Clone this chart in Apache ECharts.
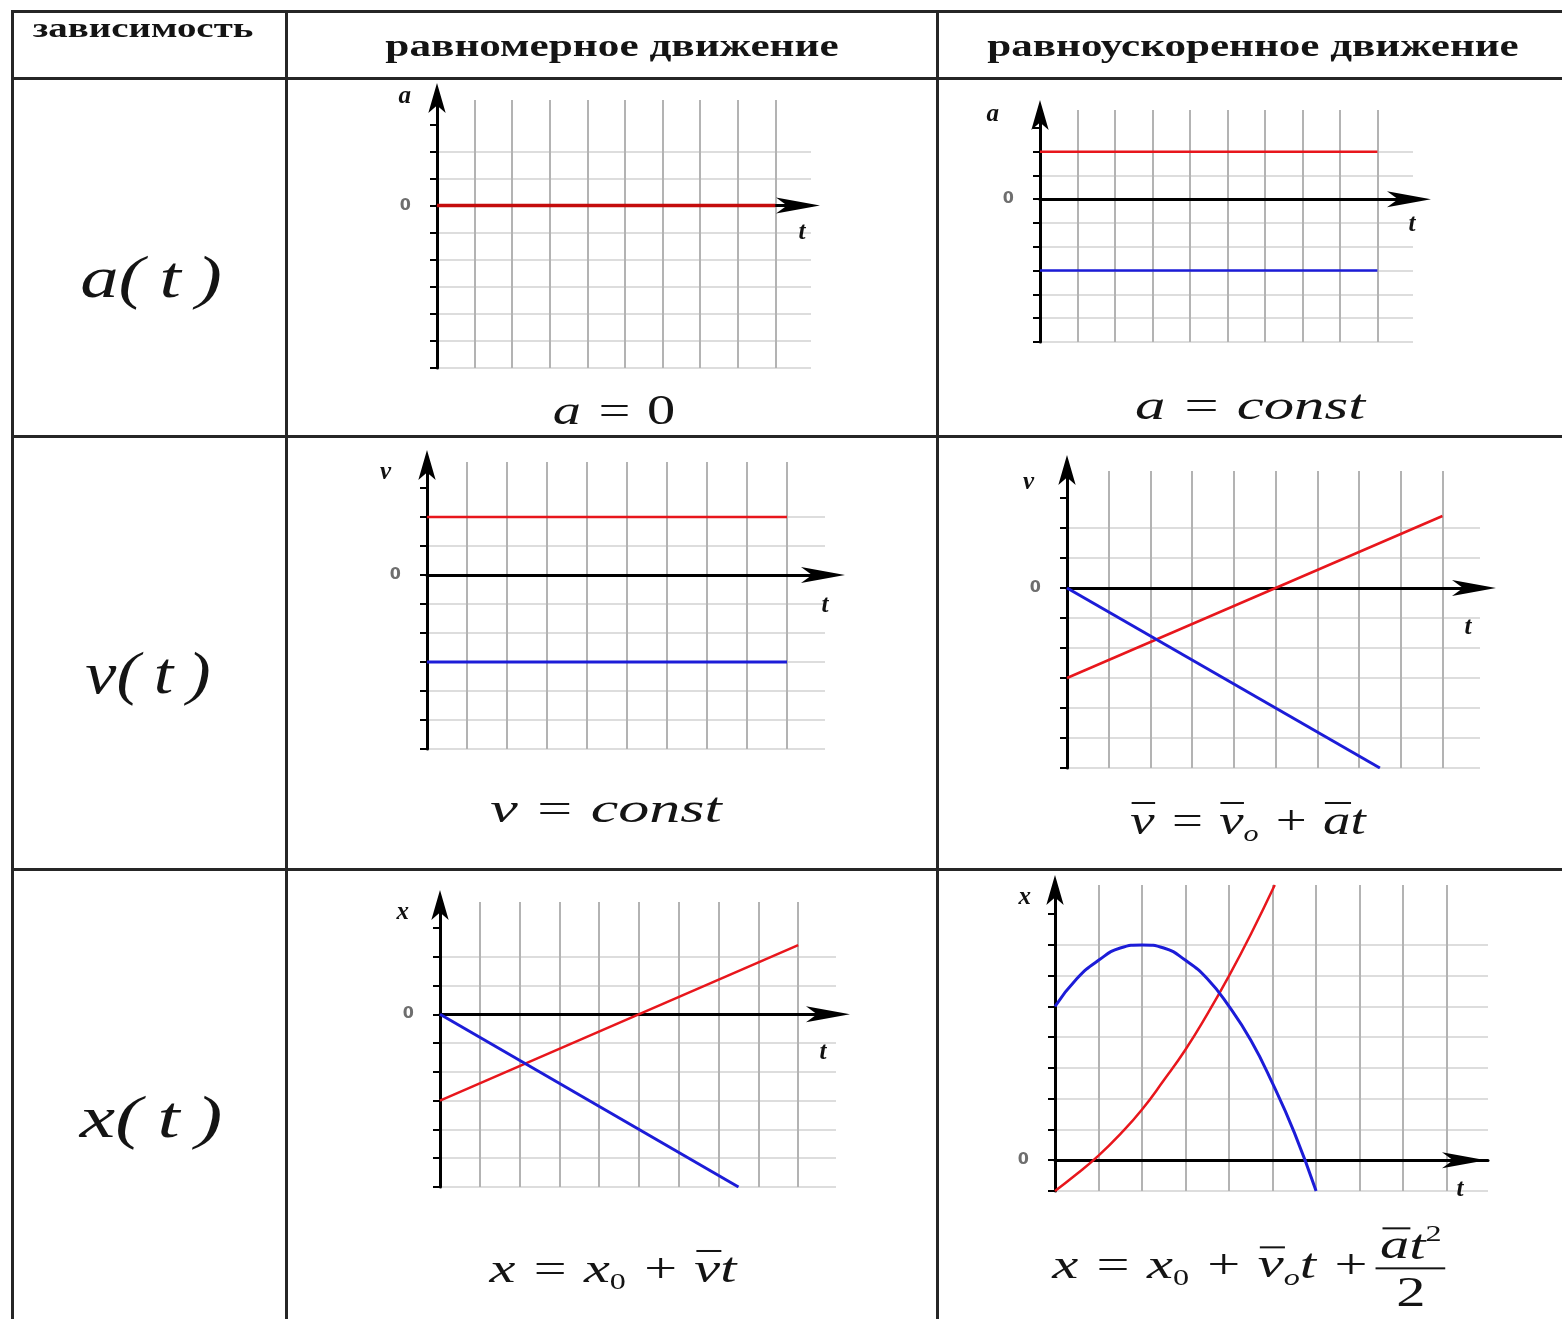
<!DOCTYPE html>
<html lang="ru">
<head>
<meta charset="utf-8">
<script src="https://cdn.jsdelivr.net/npm/echarts@6/dist/echarts.min.js"></script>
<style>
    html, body { margin: 0; padding: 0; background: #fff; }
    #wrap { position: relative; width: 1562px; height: 1319px; overflow: hidden; }
    #chart { position: absolute; left: 0; top: 0; width: 1562px; height: 1319px; }
    #table { position: absolute; left: 0; top: 0; width: 1562px; height: 1319px; pointer-events: none; }
    .ln { position: absolute; background: #262626; }
    .txt { position: absolute; white-space: nowrap; line-height: 1; transform-origin: center center; transform: translate(-50%, -50%); }
    .head { font-family: 'Liberation Serif', 'Times New Roman', serif; font-weight: bold; color: #141414; }
    .math { font-family: 'Liberation Serif', 'Times New Roman', serif; font-style: italic; color: #141414; }
    .up { font-style: normal; }
    .vec { position: relative; display: inline-block; }
    .vec::before { content: ''; position: absolute; left: 8%; right: -4%; top: 0.08em; height: 2px; background: #141414; }
    .sub { font-size: 55%; vertical-align: -0.3em; }
    .sup { font-size: 55%; vertical-align: 0.75em; font-style: normal; }
    .frac { display: inline-flex; flex-direction: column; align-items: center; vertical-align: middle; margin-left: 4px; }
    .frac .num { border-bottom: 2px solid #141414; padding: 0 3px 2px 3px; }
    .frac .den { padding-top: 2px; font-style: normal; }
</style>
</head>
<body>
<div id="wrap">
    <div id="chart"></div>
    <div id="table">
        <div class="ln" style="left:11px;top:10px;width:1551px;height:3px"></div>
        <div class="ln" style="left:11px;top:77px;width:1551px;height:3px"></div>
        <div class="ln" style="left:11px;top:435px;width:1551px;height:3px"></div>
        <div class="ln" style="left:11px;top:868px;width:1551px;height:3px"></div>
        <div class="ln" style="left:11px;top:10px;width:3px;height:1309px"></div>
        <div class="ln" style="left:285px;top:10px;width:3px;height:1309px"></div>
        <div class="ln" style="left:936px;top:10px;width:3px;height:1309px"></div>

        <div class="txt head" data-w="221" style="left:143px;top:28px;font-size:28px">зависимость</div>
        <div class="txt head" data-w="453" style="left:612px;top:45px;font-size:32px">равномерное движение</div>
        <div class="txt head" data-w="532" style="left:1253px;top:45px;font-size:32px">равноускоренное движение</div>

        <div class="txt math" data-w="142" style="left:151px;top:277px;font-size:60px">a(&#8201;t&#8201;)</div>
        <div class="txt math" data-w="125" style="left:148px;top:673px;font-size:60px">v(&#8201;t&#8201;)</div>
        <div class="txt math" data-w="142" style="left:151px;top:1117px;font-size:60px">x(&#8201;t&#8201;)</div>

        <div class="txt math" data-w="122" style="left:614px;top:410px;font-size:42px">a = <span class="up">0</span></div>
        <div class="txt math" data-w="230" style="left:1250px;top:405px;font-size:42px">a = const</div>
        <div class="txt math" data-w="232" style="left:606px;top:808px;font-size:42px">v = const</div>
        <div class="txt math" data-w="235" style="left:1248px;top:822px;font-size:42px"><span class="vec">v</span> = <span class="vec">v</span><span class="sub">o</span> + <span class="vec">a</span>t</div>
        <div class="txt math" data-w="247" style="left:613px;top:1270px;font-size:42px">x = x<span class="sub up">0</span> + <span class="vec">v</span>t</div>
        <div class="txt math" data-w="393" style="left:1249px;top:1268px;font-size:42px">x = x<span class="sub up">0</span> + <span class="vec">v</span><span class="sub">o</span>t +<span class="frac"><span class="num"><span class="vec">a</span>t<span class="sup">2</span></span><span class="den">2</span></span></div>
    </div>
</div>

<script type="text/javascript">
    // axis names / tick labels
    var yNames = ['a', 'a', 'v', 'v', 'x', 'x'];
    var tName = 't';
    var zeroLabel = '0';

    // a(t)
    var aUniformRed = [[0, 0], [9, 0]];
    var aAccelRed = [[0, 2], [9, 2]];
    var aAccelBlue = [[0, -3], [9, -3]];
    // v(t)
    var vUniformRed = [[0, 2], [9, 2]];
    var vUniformBlue = [[0, -3], [9, -3]];
    var vAccelRed = [[0, -3], [9, 2.4]];
    var vAccelBlue = [[0, 0], [7.5, -6]];
    // x(t)
    var xUniformRed = [[0, -3], [9, 2.4]];
    var xUniformBlue = [[0, 0], [7.5, -6]];
    var xAccelRed = [[0, -1], [0.5, -0.45], [1, 0.15], [1.5, 0.85], [2, 1.65], [2.5, 2.6], [3, 3.6],
        [3.5, 4.75], [4, 6.0], [4.5, 7.35], [5.05, 8.95]];
    var xAccelBlue = [[0, 5], [0.5, 5.9], [1, 6.5], [1.5, 6.9], [2, 7], [2.5, 6.9], [3, 6.5], [3.5, 5.9],
        [4, 5], [4.5, 3.9], [5, 2.5], [5.5, 0.9], [6, -1]];

    var redLines = [aUniformRed, aAccelRed, vUniformRed, vAccelRed, xUniformRed, xAccelRed];
    var blueLines = [null, aAccelBlue, vUniformBlue, vAccelBlue, xUniformBlue, xAccelBlue];

    // placement of the six small plots
    var frames = [
        {left: 437, top: 100, width: 374, height: 268, yMin: -6, yMax: 3.9, xMax: 9.95, xArrow: 9, yArrow: 17, yGap: 3, yPad: 26, tGap: -9, tPad: 14},
        {left: 1040, top: 110, width: 373, height: 232, yMin: -6, yMax: 3.75, xMax: 9.95, xArrow: 18, yArrow: 10, yGap: -5, yPad: 41, tGap: -1, tPad: 13},
        {left: 427, top: 462, width: 398, height: 287, yMin: -6, yMax: 3.9, xMax: 9.95, xArrow: 20, yArrow: 12, yGap: -11, yPad: 36, tGap: 0, tPad: 18},
        {left: 1067, top: 471, width: 413, height: 297, yMin: -6, yMax: 3.9, xMax: 9.9, xArrow: 16, yArrow: 16, yGap: -12, yPad: 33, tGap: -12, tPad: 27},
        {left: 440, top: 902, width: 396, height: 285, yMin: -6, yMax: 3.9, xMax: 9.95, xArrow: 14, yArrow: 12, yGap: -11, yPad: 31, tGap: -13, tPad: 26},
        {left: 1055, top: 885, width: 433, height: 306, yMin: -1, yMax: 8.95, xMax: 9.95, xArrow: -2, yArrow: 10, yGap: -13, yPad: 24, tGap: -28, tPad: 17}
    ];

    function nameStyle(extra) {
        var s = {fontFamily: 'Liberation Serif', fontStyle: 'italic', fontWeight: 'bold', fontSize: 25, color: '#111'};
        for (var k in extra) s[k] = extra[k];
        return s;
    }

    function integerTicks(lo, hi) {
        var out = [];
        for (var v = Math.ceil(lo); v <= Math.floor(hi); v++) out.push(v);
        return out;
    }

    var grids = [], xAxes = [], yAxes = [], series = [];
    frames.forEach(function (f, i) {
        grids.push({left: f.left, top: f.top, width: f.width, height: f.height, containLabel: false});
        xAxes.push({
            type: 'value', gridIndex: i, min: 0, max: f.xMax, interval: 1,
            name: tName, nameLocation: 'end', nameGap: f.tGap, nameMoveOverlap: false,
            nameTextStyle: nameStyle({align: 'center', verticalAlign: 'top', padding: [f.tPad, 0, 0, 0]}),
            axisLine: {onZero: true, lineStyle: {color: '#000', width: 3},
                symbol: ['none', 'arrow'], symbolSize: [12, 44], symbolOffset: [0, f.xArrow]},
            axisTick: {show: false},
            axisLabel: {show: false},
            splitLine: {show: true, showMaxLine: false, lineStyle: {color: '#b3b3b3', width: 2}}
        });
        yAxes.push({
            type: 'value', gridIndex: i, min: f.yMin, max: f.yMax, interval: 1,
            name: yNames[i], nameLocation: 'end', nameGap: f.yGap, nameMoveOverlap: false,
            nameTextStyle: nameStyle({align: 'right', verticalAlign: 'middle', padding: [0, f.yPad, 0, 0]}),
            axisLine: {onZero: false, lineStyle: {color: '#000', width: 3},
                symbol: ['none', 'arrow'], symbolSize: [13, 30], symbolOffset: [0, f.yArrow]},
            axisTick: {show: true, length: 7, customValues: integerTicks(f.yMin, f.yMax),
                lineStyle: {color: '#000', width: 2}},
            axisLabel: {
                margin: 26, color: '#6e6e6e', fontSize: 16, fontWeight: 'bold', fontFamily: 'DejaVu Sans',
                formatter: function (v) { return v === 0 ? zeroLabel : ''; }
            },
            splitLine: {show: true, showMaxLine: false, lineStyle: {color: '#d2d2d2', width: 1.5}}
        });
        series.push({
            type: 'line', xAxisIndex: i, yAxisIndex: i, data: redLines[i], symbol: 'none',
            smooth: i === 5, silent: true,
            lineStyle: {color: i === 0 ? '#c40c0c' : '#e8161c', width: i === 0 ? 3.5 : 2.5}
        });
        if (blueLines[i]) {
            series.push({
                type: 'line', xAxisIndex: i, yAxisIndex: i, data: blueLines[i], symbol: 'none',
                smooth: i === 5, silent: true,
                lineStyle: {color: '#1c1cd8', width: i === 1 ? 2.5 : 3}
            });
        }
    });

    var chart = echarts.init(document.getElementById('chart'));
    chart.setOption({
        animation: false,
        grid: grids,
        xAxis: xAxes,
        yAxis: yAxes,
        series: series
    });

    // stretch the table texts to the widths they have in the picture
    var items = document.querySelectorAll('.txt');
    for (var i = 0; i < items.length; i++) {
        var el = items[i];
        var w = parseFloat(el.getAttribute('data-w'));
        var k = w / el.offsetWidth;
        el.style.transform = 'translate(-50%, -50%) scaleX(' + k.toFixed(3) + ')';
    }
</script>
</body>
</html>
